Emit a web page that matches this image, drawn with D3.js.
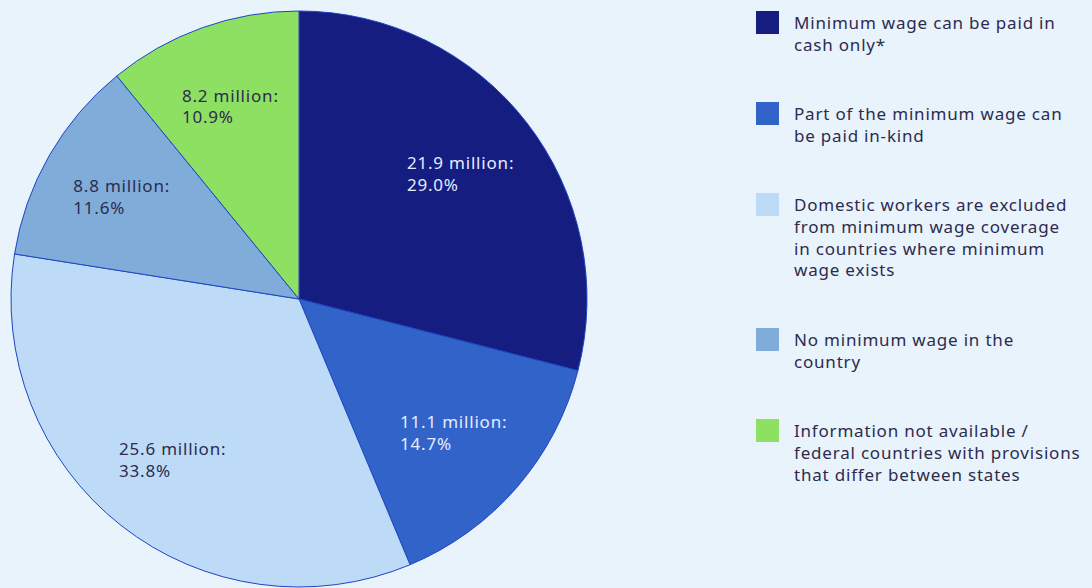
<!DOCTYPE html>
<html>
<head>
<meta charset="utf-8">
<script src="https://cdn.jsdelivr.net/npm/d3@7"></script>
<style>
  html, body { margin: 0; padding: 0; background: #e9f3fc; }
  svg { display: block; }
  text { font-family: "Noto Sans", sans-serif; letter-spacing: 0.8px; }
</style>
</head>
<body>
<svg id="chart" width="1092" height="588"></svg>
<script>
// ---- data ----
const categories = [
  "Minimum wage can be paid in cash only*",
  "Part of the minimum wage can be paid in-kind",
  "Domestic workers are excluded from minimum wage coverage in countries where minimum wage exists",
  "No minimum wage in the country",
  "Information not available / federal countries with provisions that differ between states"
];
const legendLines = [
  ["Minimum wage can be paid in", "cash only*"],
  ["Part of the minimum wage can", "be paid in-kind"],
  ["Domestic workers are excluded", "from minimum wage coverage", "in countries where minimum", "wage exists"],
  ["No minimum wage in the", "country"],
  ["Information not available /", "federal countries with provisions", "that differ between states"]
];
const millions = [21.9, 11.1, 25.6, 8.8, 8.2];
const percents = [29.0, 14.7, 33.8, 11.6, 10.9];
const colors = ["#151d80", "#3163c9", "#bddbf7", "#80acd9", "#8ee062"];
const labelColors = ["#e6ecff", "#e6ecff", "#2d2b4e", "#2d2b4e", "#2d2b4e"];

// ---- layout ----
const svg = d3.select("#chart");
const cx = 299, cy = 299, R = 288;
const textColor = "#2d2b4e";

const pie = d3.pie().sort(null).value(d => d.v);
const data = categories.map((c, i) => ({ c, v: percents[i], m: millions[i], i }));
const arcs = pie(data);
const arc = d3.arc().innerRadius(0).outerRadius(R);
const labelArc = d3.arc().innerRadius(R * 0.71).outerRadius(R * 0.71);

const g = svg.append("g").attr("transform", `translate(${cx},${cy})`);
g.selectAll("path.slice").data(arcs).join("path")
  .attr("class", "slice")
  .attr("d", arc)
  .attr("fill", d => colors[d.data.i])
  .attr("stroke", "#1f45c4")
  .attr("stroke-width", 1);

const lh = 21.7;
const labels = g.selectAll("text.lbl").data(arcs).join("text")
  .attr("class", "lbl")
  .attr("font-size", 17)
  .attr("fill", d => labelColors[d.data.i])
  .attr("transform", d => {
    const [x, y] = labelArc.centroid(d);
    return `translate(${x},${y})`;
  });
labels.each(function(d) {
  const t = d3.select(this);
  const lines = [d3.format(".1f")(d.data.m) + " million:", d3.format(".1f")(d.data.v) + "%"];
  lines.forEach((l, k) => {
    t.append("tspan").attr("x", 0).attr("y", (k - 0.5) * lh + 6).text(l);
  });
});
// left-align the block around its centroid
labels.each(function() {
  const bb = this.getBBox();
  d3.select(this).selectAll("tspan").attr("x", -bb.width / 2);
});

// ---- legend ----
const lgX = 756, sq = 23, textX = 794, top0 = 11, bottom = 485;
const totalLines = d3.sum(legendLines, l => l.length);
const gap = (bottom - top0 - totalLines * 22) / (legendLines.length - 1);
let y = top0;
const legend = svg.append("g");
legendLines.forEach((lines, i) => {
  const item = legend.append("g").attr("transform", `translate(0,${y})`);
  item.append("rect").attr("x", lgX).attr("y", 0).attr("width", sq).attr("height", sq)
    .attr("fill", colors[i]);
  const t = item.append("text").attr("font-size", 17).attr("fill", textColor);
  lines.forEach((l, k) => {
    t.append("tspan").attr("x", textX).attr("y", 18 + k * 21.8).text(l);
  });
  y += lines.length * 22 + gap;
});
</script>
</body>
</html>
